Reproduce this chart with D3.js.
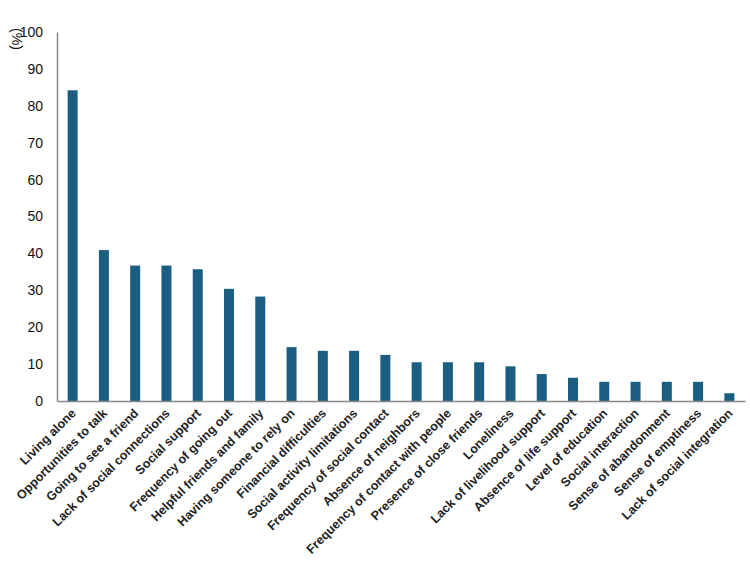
<!DOCTYPE html>
<html>
<head>
<meta charset="utf-8">
<script src="https://cdn.jsdelivr.net/npm/d3@7"></script>
<style>
  body { margin: 0; background: #fff; }
  svg text { font-family: "Liberation Sans", Arial, sans-serif; }
</style>
</head>
<body>
<svg id="chart" width="750" height="583"></svg>
<script>
const categories = [
  'Living alone', 'Opportunities to talk', 'Going to see a friend',
  'Lack of social connections', 'Social support', 'Frequency of going out',
  'Helpful friends and family', 'Having someone to rely on', 'Financial difficulties',
  'Social activity limitations', 'Frequency of social contact', 'Absence of neighbors',
  'Frequency of contact with people', 'Presence of close friends', 'Loneliness',
  'Lack of livelihood support', 'Absence of life support', 'Level of education',
  'Social interaction', 'Sense of abandonment', 'Sense of emptiness',
  'Lack of social integration'
]
const values = [
  84.2, 40.9, 36.7, 36.7, 35.7, 30.4, 28.3, 14.6, 13.6, 13.6, 12.5,
  10.5, 10.5, 10.5, 9.4, 7.3, 6.3, 5.2, 5.2, 5.2, 5.2, 2.1
]
const yTicks = [0, 10, 20, 30, 40, 50, 60, 70, 80, 90, 100]

const svg = d3.select('#chart')
const mLeft = 57, mRight = 745, mTop = 32, mBottom = 401

const x = d3.scaleBand()
  .domain(categories)
  .range([mLeft, mRight])
  .paddingInner(0.68)
  .paddingOuter(0.34)

const y = d3.scaleLinear()
  .domain([0, 100])
  .range([mBottom, mTop])

// bars
svg.append('g')
  .selectAll('rect')
  .data(values)
  .join('rect')
    .attr('x', (d, i) => x(categories[i]))
    .attr('y', d => y(d))
    .attr('width', x.bandwidth())
    .attr('height', d => mBottom - y(d))
    .attr('fill', '#1b5e82')

// y axis
const yAxis = svg.append('g')
  .attr('transform', `translate(${mLeft},0)`)
  .call(d3.axisLeft(y).tickValues(yTicks).tickSize(0).tickPadding(14))
yAxis.select('.domain').attr('stroke', '#888').attr('stroke-width', 1.5)
yAxis.selectAll('text').attr('font-size', 14).attr('fill', '#111')

// x axis
const xAxis = svg.append('g')
  .attr('transform', `translate(0,${mBottom})`)
  .call(d3.axisBottom(x).tickSize(0).tickSizeOuter(0).tickPadding(0))
xAxis.select('.domain').attr('stroke', '#888').attr('stroke-width', 1.5)
xAxis.selectAll('text')
  .attr('font-size', 12.5)
  .attr('font-weight', 'bold')
  .attr('fill', '#222')
  .attr('text-anchor', 'end')
  .attr('dy', 0)
  .attr('transform', 'translate(4,13) rotate(-45)')

// unit label
svg.append('text')
  .attr('transform', 'translate(12,39) rotate(90)')
  .attr('text-anchor', 'middle')
  .attr('font-size', 14)
  .attr('fill', '#111')
  .text('(%)')
</script>
</body>
</html>
